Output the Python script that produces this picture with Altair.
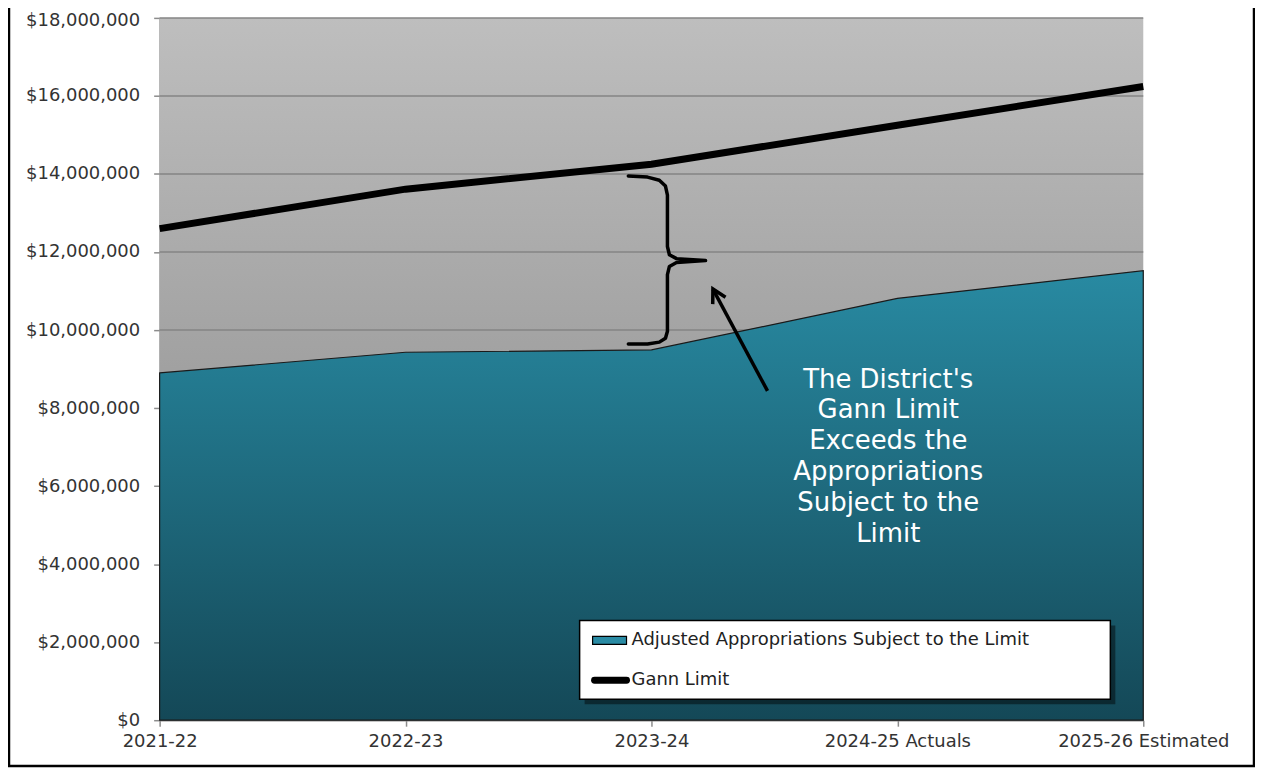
import json
import altair as alt
import pandas as pd

# ---- data ----
years = ["2021-22", "2022-23", "2023-24", "2024-25 Actuals", "2025-26 Estimated"]
appropriations = [8_900_000, 9_430_000, 9_490_000, 10_810_000, 11_520_000]
gann_limit = [12_600_000, 13_610_000, 14_250_000, 15_250_000, 16_240_000]
series_names = ["Adjusted Appropriations Subject to the Limit", "Gann Limit"]
y_ticks = list(range(0, 18_000_001, 2_000_000))
annotation_lines = ["The District's", "Gann Limit", "Exceeds the",
                    "Appropriations", "Subject to the", "Limit"]

# annotation geometry (data units: x = category index, y = millions of dollars)
brace_x = [1.906, 1.984, 2.032, 2.057, 2.065, 2.065, 2.073, 2.102, 2.220,
           2.102, 2.073, 2.065, 2.065, 2.057, 2.032, 1.984, 1.906]
brace_y = [13.95, 13.92, 13.84, 13.69, 13.46, 12.14, 11.93, 11.83, 11.78,
           11.73, 11.63, 11.42, 9.97, 9.79, 9.69, 9.64, 9.64]
arrow_x = [2.472, 2.250]
arrow_y = [8.44, 11.05]
text_pos = (2.963, 8.73)   # centre of the first text line

FONT = "DejaVu Sans"
idx = list(range(len(years)))

main = pd.DataFrame({"idx": idx, "appr": appropriations, "gann": gann_limit})
grid_df = pd.DataFrame({"tick": y_ticks})
brace_df = pd.DataFrame({"idx": brace_x, "value": [v * 1e6 for v in brace_y],
                         "o": range(len(brace_x))})
arrow_df = pd.DataFrame({"idx": arrow_x, "value": [v * 1e6 for v in arrow_y],
                         "o": [0, 1]})
head_df = arrow_df.iloc[[1]]
text_df = pd.DataFrame({"idx": [text_pos[0]], "value": [text_pos[1] * 1e6],
                        "t": ["\n".join(annotation_lines)]})
one = pd.DataFrame({"a": [0]})

label_expr = json.dumps(years) + "[datum.value]"
x_axis = alt.Axis(values=idx, labelExpr=label_expr, title=None, grid=False,
                  domainColor="#8c8c8c", domainWidth=1.5, tickColor="#8c8c8c",
                  tickWidth=1.5, tickSize=6, labelPadding=6, labelFont=FONT,
                  labelFontSize=18, labelColor="#333333", labelFlush=False)
y_axis = alt.Axis(values=y_ticks, format="$,.0f", title=None, grid=False,
                  domainColor="#8c8c8c", domainWidth=1.5, tickColor="#8c8c8c",
                  tickWidth=1.5, tickSize=6, labelPadding=14, labelFont=FONT,
                  labelFontSize=18, labelColor="#333333",
                  labelOffset={"condition": {"test": "datum.value >= %d" % y_ticks[-1],
                                             "value": 3}, "value": 0})
x_scale = alt.Scale(domain=[0, 4], nice=False, zero=False)
y_scale = alt.Scale(domain=[0, 18_000_000], nice=False)


def X(field):
    return alt.X(field, type="quantitative", scale=x_scale, axis=x_axis)


def Y(field):
    return alt.Y(field, type="quantitative", scale=y_scale, axis=y_axis)


bg_grad = alt.Gradient(gradient="linear", x1=0, x2=0, y1=0, y2=1, stops=[
    alt.GradientStop(color="#bebebe", offset=0),
    alt.GradientStop(color="#848484", offset=1)])
area_grad = alt.Gradient(gradient="linear", x1=0, x2=0, y1=0, y2=1, stops=[
    alt.GradientStop(color="#288aa2", offset=0),
    alt.GradientStop(color="#144857", offset=1)])

background = alt.Chart(one).mark_rect(fill=bg_grad).encode(
    x=alt.value(0), x2=alt.value("width"), y=alt.value(0), y2=alt.value("height"))

grid = alt.Chart(grid_df).mark_rule(color="#858585", strokeWidth=1.5).encode(
    y=Y("tick"), x=alt.value(0), x2=alt.value("width"))

area = alt.Chart(main).mark_area(fill=area_grad, stroke="#1a1a1a", strokeWidth=1.2).encode(
    x=X("idx"), y=Y("appr"))

line = alt.Chart(main).mark_line(color="black", strokeWidth=7).encode(
    x=X("idx"), y=Y("gann"))

brace = alt.Chart(brace_df).mark_line(color="black", strokeWidth=3.5,
                                      strokeJoin="round", strokeCap="round").encode(
    x=X("idx"), y=Y("value"), order="o:Q")

arrow = alt.Chart(arrow_df).mark_line(color="black", strokeWidth=3.5).encode(
    x=X("idx"), y=Y("value"), order="o:Q")

head = alt.Chart(head_df).mark_point(
    shape="M -0.55 1 L 0 0 L 0.55 1", filled=False, stroke="black",
    strokeWidth=3.5, size=700, angle=332, opacity=1).encode(
    x=X("idx"), y=Y("value"))

note = alt.Chart(text_df).mark_text(
    font=FONT, fontSize=26, color="white", align="center", baseline="middle",
    lineBreak="\n", lineHeight=31).encode(x=X("idx"), y=Y("value"), text="t:N")

# legend box (placed inside plot, bottom right)
shadow = alt.Chart(one).mark_rect(fill="black", opacity=0.45).encode(
    x=alt.value(426), x2=alt.value(958), y=alt.value(609), y2=alt.value(688))
box = alt.Chart(one).mark_rect(fill="white", stroke="black", strokeWidth=1.5).encode(
    x=alt.value(421), x2=alt.value(953), y=alt.value(604), y2=alt.value(683))
sym1 = alt.Chart(one).mark_rect(fill="#2a8ba4", stroke="black", strokeWidth=1.2).encode(
    x=alt.value(434), x2=alt.value(468), y=alt.value(620), y2=alt.value(628))
sym2 = alt.Chart(one).mark_rule(color="black", strokeWidth=7, strokeCap="round").encode(
    x=alt.value(436), x2=alt.value(468), y=alt.value(664))
lab1 = alt.Chart(one).mark_text(font=FONT, fontSize=18, color="#222222", align="left",
                                baseline="middle").encode(
    x=alt.value(473), y=alt.value(624), text=alt.value(series_names[0]))
lab2 = alt.Chart(one).mark_text(font=FONT, fontSize=18, color="#222222", align="left",
                                baseline="middle").encode(
    x=alt.value(473), y=alt.value(664), text=alt.value(series_names[1]))

frame = alt.Chart(one).mark_rect(fillOpacity=0, stroke="black", strokeWidth=2.5).encode(
    x=alt.value(-151), x2=alt.value(1097), y=alt.value(-20), y2=alt.value(750))

chart = alt.layer(
    background, grid, area, line, brace, arrow, head, note,
    shadow, box, sym1, sym2, lab1, lab2, frame
).properties(
    width=986, height=704,
    autosize=alt.AutoSizeParams(type="none"),
    padding={"left": 152, "top": 9, "right": 112, "bottom": 47},
    background="white",
).configure_view(stroke="transparent")

chart.save("out.html", embed_options={"renderer": "svg", "actions": False})
